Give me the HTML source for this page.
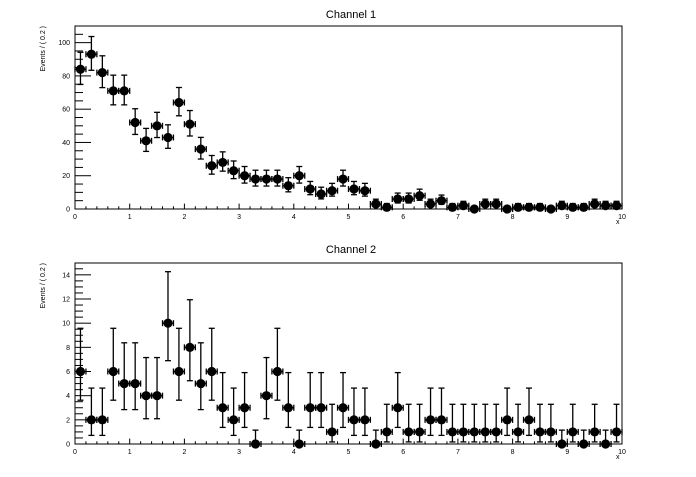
<!DOCTYPE html>
<html><head><meta charset="utf-8"><style>
body{margin:0;background:#fff}
svg text{font-family:"Liberation Sans",sans-serif}
</style></head><body>
<svg id="c" width="696" height="472" xmlns="http://www.w3.org/2000/svg">
<text x="351" y="18" font-size="11" text-anchor="middle">Channel 1</text>
<text x="351" y="253" font-size="11" text-anchor="middle">Channel 2</text>
</svg>
<script>
const categories = [0.1,0.3,0.5,0.7,0.9,1.1,1.3,1.5,1.7,1.9,2.1,2.3,2.5,2.7,2.9,3.1,3.3,3.5,3.7,3.9,4.1,4.3,4.5,4.7,4.9,5.1,5.3,5.5,5.7,5.9,6.1,6.3,6.5,6.7,6.9,7.1,7.3,7.5,7.7,7.9,8.1,8.3,8.5,8.7,8.9,9.1,9.3,9.5,9.7,9.9];
const channel1 = [84,93,82,71,71,52,41,50,43,64,51,36,26,28,23,20,18,18,18,14,20,12,9,11,18,12,11,3,1,6,6,8,3,5,1,2,0,3,3,0,1,1,1,0,2,1,1,3,2,2];
const channel2 = [6,2,2,6,5,5,4,4,10,6,8,5,6,3,2,3,0,4,6,3,0,3,3,1,3,2,2,0,1,3,1,1,2,2,1,1,1,1,1,2,1,2,1,1,0,1,0,1,0,1];
const xTicks = [0,1,2,3,4,5,6,7,8,9,10];
const y1Ticks = [0,20,40,60,80,100];
const y2Ticks = [0,2,4,6,8,10,12,14];
const svg = document.getElementById('c');
const NS = 'http://www.w3.org/2000/svg';
function mk(tag, attrs, parent){const e=document.createElementNS(NS,tag);for(const k in attrs)e.setAttribute(k,attrs[k]);(parent||svg).appendChild(e);return e;}
function up(n){return n===0?1.148:(n+1)*Math.pow(1-1/(9*(n+1))+1/(3*Math.sqrt(n+1)),3);}
function lo(n){return n===0?0:n*Math.pow(1-1/(9*n)-1/(3*Math.sqrt(n)),3);}
function panel(name, top, bottom, ymax, yTicks, minorStep, data){
  const L=75,R=622;
  const X=v=>L+(v/10)*(R-L);
  const Y=v=>bottom-(v/ymax)*(bottom-top);
  const g=mk('g',{});
  
  
  const fr=mk('rect',{x:L,y:top,width:R-L,height:bottom-top,fill:'none',stroke:'#000','stroke-width':1},g);
  
  
  // x ticks
  for(let v=0;v<=10.001;v+=0.2){
    const maj=Math.abs(v-Math.round(v))<1e-6;
    mk('line',{x1:X(v),x2:X(v),y1:bottom,y2:bottom-(maj?5.4:2.7),stroke:'#000','stroke-width':1},g);
  }
  xTicks.forEach(t=>{
    const tx=mk('text',{x:X(t),y:bottom+10,'font-size':7,'text-anchor':'middle'},g);
    
    
    tx.textContent=t;
  });
  const xt=mk('text',{x:616,y:bottom+15,'font-size':7},g);
  
  
  xt.textContent='x';
  // y ticks
  for(let v=0;Y(v)>=top-0.1;v+=minorStep){
    const maj=yTicks.some(t=>Math.abs(t-v)<1e-6);
    mk('line',{x1:L,x2:L+(maj?16:8),y1:Y(v),y2:Y(v),stroke:'#000','stroke-width':1},g);
  }
  yTicks.forEach(t=>{
    const ty=mk('text',{x:L-5,y:Y(t)+2.5,'font-size':7,'text-anchor':'end'},g);
    
    
    ty.textContent=t;
  });
  const yt=mk('text',{x:0,y:0,'font-size':7,'text-anchor':'end',transform:`translate(45,${top}) rotate(-90)`},g);
  
  
  yt.textContent='Events / ( 0.2 )';
  // points
  categories.forEach((c,i)=>{
    const n=data[i];
    const pg=mk('g',{},g);
    
    
    const cx=X(c), cy=Y(n), y1=Y(up(n)), y0=Y(lo(n));
    const x0=X(c-0.1), x1=X(c+0.1);
    const s={stroke:'#000','stroke-width':1.3};
    mk('line',Object.assign({x1:cx,x2:cx,y1:y1,y2:y0},s),pg);
    mk('line',Object.assign({x1:x0,x2:x1,y1:cy,y2:cy},s),pg);
    mk('line',Object.assign({x1:cx-3,x2:cx+3,y1:y1,y2:y1},s),pg);
    mk('line',Object.assign({x1:cx-3,x2:cx+3,y1:y0,y2:y0},s),pg);
    mk('line',Object.assign({x1:x0,x2:x0,y1:cy-3,y2:cy+3},s),pg);
    mk('line',Object.assign({x1:x1,x2:x1,y1:cy-3,y2:cy+3},s),pg);
    mk('circle',{cx:cx,cy:cy,r:4.6,fill:'#000'},pg);
  });
}
panel('channel-1',26,209,110,y1Ticks,5,channel1);
panel('channel-2',263,444,14.98,y2Ticks,0.5,channel2);
</script>
</body></html>
